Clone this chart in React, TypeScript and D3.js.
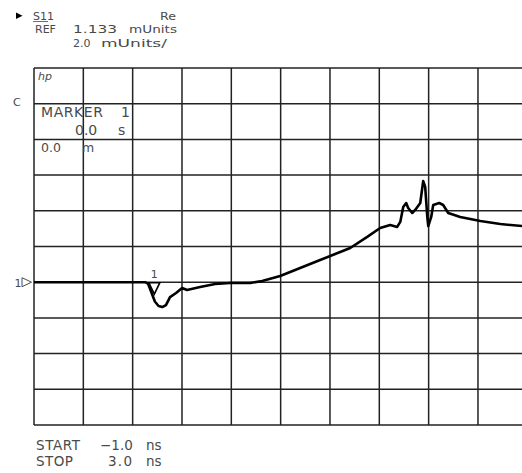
import React, { useRef, useEffect } from "react";
import * as d3 from "d3";

// trace: S11 real part vs time (ns), in mUnits
const timeNs = [
  -1.0, -0.1, -0.075, -0.05, -0.02, 0.01, 0.04, 0.07, 0.103, 0.152, 0.201,
  0.241, 0.347, 0.469, 0.59, 0.753, 0.85, 0.996, 1.158, 1.32, 1.442, 1.564,
  1.702, 1.807, 1.888, 1.945, 1.97, 1.994, 2.018, 2.034, 2.067, 2.091, 2.132,
  2.156, 2.172, 2.189, 2.197, 2.221, 2.237, 2.286, 2.318, 2.359, 2.456, 2.619,
  2.781, 2.959,
];
const reValues = [
  1.133, 1.133, 1.05, 0.6, 0.05, -0.2, -0.26, -0.15, 0.3, 0.53, 0.81, 0.7,
  0.86, 1.03, 1.09, 1.09, 1.2, 1.48, 1.93, 2.38, 2.71, 3.05, 3.67, 4.17,
  4.34, 4.23, 4.51, 5.35, 5.57, 5.29, 5.01, 5.18, 5.57, 6.8, 6.47, 4.79,
  4.28, 4.79, 5.46, 5.57, 5.46, 5.01, 4.79, 4.56, 4.39, 4.28,
];

// instrument settings
const startNs = -1.0;
const stopNs = 3.0;
const refValue = 1.133;
const perDiv = 2.0;
const refDiv = 4; // reference line position, divisions from bottom
const markerTime = 0.0;

const headerLines = [
  { x: 33, y: 20, text: "S11", w: 15 },
  { x: 160, y: 20, text: "Re", w: 16 },
  { x: 35, y: 33, text: "REF", w: 19 },
  { x: 73, y: 33, text: "1.133", w: 44 },
  { x: 129, y: 33, text: "mUnits", w: 48 },
  { x: 73, y: 47, text: "2.0", w: 17 },
  { x: 101, y: 47, text: "mUnits/", w: 66 },
];
const markerLines = [
  { x: 41, y: 117, text: "MARKER", w: 62 },
  { x: 121, y: 117, text: "1", w: 6 },
  { x: 75, y: 135, text: "0.0", w: 22 },
  { x: 118, y: 135, text: "s", w: 6 },
];
const distanceLines = [
  { x: 41, y: 152, text: "0.0", w: 17 },
  { x: 82, y: 152, text: "m", w: 8 },
];
const footerLines = [
  { x: 36, y: 450, text: "START", w: 44 },
  { x: 100, y: 450, text: "\u22121.0", w: 32 },
  { x: 146, y: 450, text: "ns", w: 15 },
  { x: 36, y: 466, text: "STOP", w: 37 },
  { x: 108, y: 466, text: "3.0", w: 24 },
  { x: 146, y: 466, text: "ns", w: 15 },
];

export default function App() {
  const svgRef = useRef<SVGSVGElement>(null);

  useEffect(() => {
    if (!svgRef.current) return;
    const width = 522;
    const height = 473;
    const left = 34;
    const right = 527.3;
    const top = 68;
    const bottom = 425;

    const svg = d3.select(svgRef.current);
    svg.selectAll("*").remove();
    svg.attr("width", width).attr("height", height);

    const x = d3.scaleLinear().domain([startNs, stopNs]).range([left, right]);
    const yMin = refValue - refDiv * perDiv;
    const yMax = refValue + (10 - refDiv) * perDiv;
    const y = d3.scaleLinear().domain([yMin, yMax]).range([bottom, top]);

    const xDivs = d3.range(11).map((i) => startNs + (i * (stopNs - startNs)) / 10);
    const yDivs = d3.range(11).map((i) => yMin + i * perDiv);

    const grid = svg.append("g").attr("stroke", "#222").attr("stroke-width", 1.5);
    grid
      .selectAll(".v")
      .data(xDivs)
      .join("line")
      .attr("x1", (d) => x(d))
      .attr("x2", (d) => x(d))
      .attr("y1", top)
      .attr("y2", bottom);
    grid
      .selectAll(".h")
      .data(yDivs)
      .join("line")
      .attr("x1", left)
      .attr("x2", right)
      .attr("y1", (d) => y(d))
      .attr("y2", (d) => y(d));

    // trace
    const line = d3
      .line<number>()
      .x((_, i) => x(timeNs[i]))
      .y((d) => y(d))
      .curve(d3.curveLinear);
    svg
      .append("path")
      .datum(reValues)
      .attr("d", line)
      .attr("fill", "none")
      .attr("stroke", "#000")
      .attr("stroke-width", 2.6)
      .attr("stroke-linejoin", "round");

    const font = "'DejaVu Sans', sans-serif";
    const txt = "#4a4a4a";
    // only stretch text that is narrower than the screen text; never squeeze
    const addText = (
      items: { x: number; y: number; text: string; w: number }[],
      size: number,
      adjust: string
    ) => {
      svg
        .append("g")
        .selectAll("text")
        .data(items)
        .join("text")
        .attr("x", (d) => d.x)
        .attr("y", (d) => d.y)
        .attr("font-family", font)
        .attr("font-size", size)
        .attr("fill", txt)
        .text((d) => d.text)
        .each(function (d) {
          const natural = (this as SVGTextElement).getComputedTextLength();
          if (natural < d.w) {
            d3.select(this).attr("textLength", d.w).attr("lengthAdjust", adjust);
          }
        });
    };
    addText(headerLines, 11, "spacingAndGlyphs");
    addText(markerLines, 14, "spacing");
    addText(distanceLines, 12.5, "spacing");
    addText(footerLines, 13.5, "spacing");

    // S11 underline and active channel arrow
    svg
      .append("line")
      .attr("x1", 33)
      .attr("x2", 48)
      .attr("y1", 21.5)
      .attr("y2", 21.5)
      .attr("stroke", txt)
      .attr("stroke-width", 0.8);
    svg.append("path").attr("d", "M16,12.5 L22.5,15.7 L16,19 Z").attr("fill", "#000");

    // hp logo and channel letter
    svg
      .append("text")
      .attr("x", 38)
      .attr("y", 80)
      .attr("font-family", font)
      .attr("font-size", 11)
      .attr("font-style", "italic")
      .attr("fill", txt)
      .text("hp");
    svg
      .append("text")
      .attr("x", 13)
      .attr("y", 106)
      .attr("font-family", font)
      .attr("font-size", 11)
      .attr("fill", txt)
      .text("C");

    // reference position "1▷"
    const yr = y(refValue);
    svg
      .append("text")
      .attr("x", 14.5)
      .attr("y", yr + 4.5)
      .attr("font-family", font)
      .attr("font-size", 11)
      .attr("fill", txt)
      .text("1");
    svg
      .append("path")
      .attr("d", `M22,${yr - 4.5} L31.5,${yr} L22,${yr + 4.5} Z`)
      .attr("fill", "none")
      .attr("stroke", txt)
      .attr("stroke-width", 1);

    // marker 1
    const xm = x(markerTime) - 3;
    svg
      .append("path")
      .attr("d", `M${xm - 5.5},${yr + 0.5} L${xm + 5.5},${yr + 0.5} L${xm},${yr + 12} Z`)
      .attr("fill", "none")
      .attr("stroke", "#000")
      .attr("stroke-width", 1.6);
    svg
      .append("text")
      .attr("x", xm)
      .attr("y", yr - 4)
      .attr("text-anchor", "middle")
      .attr("font-family", font)
      .attr("font-size", 11)
      .attr("fill", txt)
      .text("1");
  }, []);

  return (
    <svg
      ref={svgRef}
      style={{ position: "absolute", left: 0, top: 0, background: "#fff" }}
    ></svg>
  );
}
